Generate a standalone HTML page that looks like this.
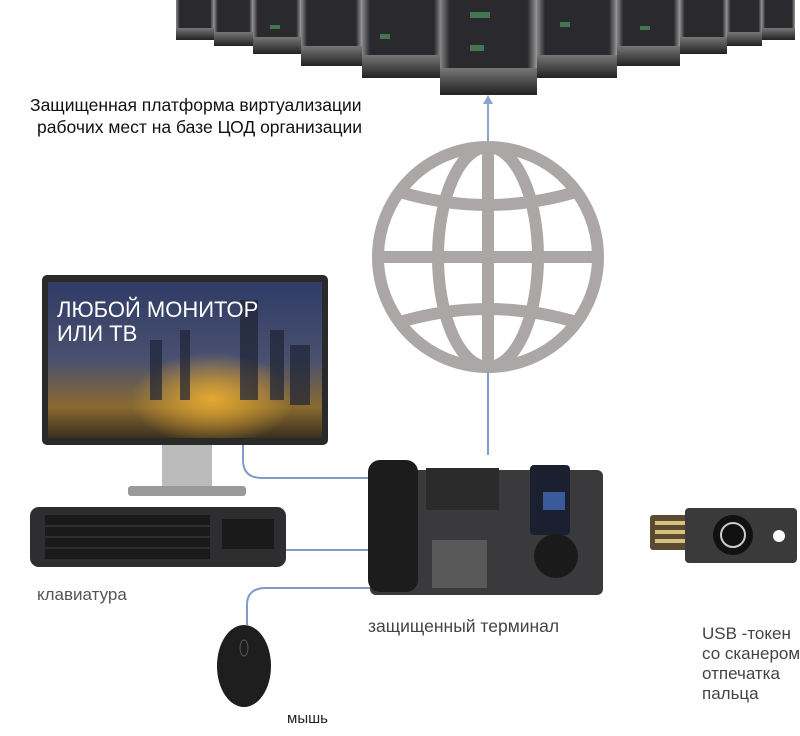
<!DOCTYPE html>
<html><head><meta charset="utf-8"><style>
body{margin:0;background:#fff;}
svg{display:block}
text{font-family:"Liberation Sans",sans-serif}
</style></head><body>
<svg width="800" height="736" viewBox="0 0 800 736" xmlns="http://www.w3.org/2000/svg">
<defs>
<linearGradient id="rk" x1="0" x2="1"><stop offset="0" stop-color="#888"/><stop offset="0.1" stop-color="#2a2a2e"/><stop offset="0.9" stop-color="#2a2a2e"/><stop offset="1" stop-color="#999"/></linearGradient>
<linearGradient id="base" x1="0" y1="0" x2="0" y2="1"><stop offset="0" stop-color="#777"/><stop offset="1" stop-color="#222"/></linearGradient>
<linearGradient id="scr" x1="0" y1="0" x2="0" y2="1"><stop offset="0" stop-color="#2f3c66"/><stop offset="0.5" stop-color="#4a5070"/><stop offset="0.8" stop-color="#8a6a30"/><stop offset="1" stop-color="#3a3020"/></linearGradient>
<radialGradient id="glow" cx="0.6" cy="0.75" r="0.3"><stop offset="0" stop-color="#f0b030" stop-opacity="0.9"/><stop offset="1" stop-color="#f0b030" stop-opacity="0"/></radialGradient>
</defs>
<g>
<rect x="176" y="0" width="38" height="40" fill="url(#rk)"/><rect x="176" y="28" width="38" height="12" fill="url(#base)"/>
<rect x="762" y="0" width="33" height="40" fill="url(#rk)"/><rect x="762" y="28" width="33" height="12" fill="url(#base)"/>
<rect x="214" y="0" width="39" height="46" fill="url(#rk)"/><rect x="214" y="32" width="39" height="14" fill="url(#base)"/>
<rect x="727" y="0" width="35" height="46" fill="url(#rk)"/><rect x="727" y="32" width="35" height="14" fill="url(#base)"/>
<rect x="253" y="0" width="48" height="54" fill="url(#rk)"/><rect x="253" y="37" width="48" height="17" fill="url(#base)"/>
<rect x="680" y="0" width="47" height="54" fill="url(#rk)"/><rect x="680" y="37" width="47" height="17" fill="url(#base)"/>
<rect x="301" y="0" width="61" height="66" fill="url(#rk)"/><rect x="301" y="46" width="61" height="20" fill="url(#base)"/>
<rect x="617" y="0" width="63" height="66" fill="url(#rk)"/><rect x="617" y="46" width="63" height="20" fill="url(#base)"/>
<rect x="362" y="0" width="80" height="78" fill="url(#rk)"/><rect x="362" y="55" width="80" height="23" fill="url(#base)"/>
<rect x="537" y="0" width="80" height="78" fill="url(#rk)"/><rect x="537" y="55" width="80" height="23" fill="url(#base)"/>
<rect x="440" y="0" width="97" height="95" fill="url(#rk)"/><rect x="440" y="68" width="97" height="27" fill="url(#base)"/>
<g fill="#4a8a5a" opacity="0.8"><rect x="470" y="12" width="20" height="6"/><rect x="470" y="45" width="14" height="6"/><rect x="380" y="34" width="10" height="5"/><rect x="560" y="22" width="10" height="5"/><rect x="270" y="25" width="10" height="4"/><rect x="640" y="26" width="10" height="4"/></g>
</g>
<line x1="488" y1="145" x2="488" y2="101" stroke="#8aa4cc" stroke-width="2"/>
<path d="M483 104 L488 95 L493 104 Z" fill="#8aa4cc"/>
<text x="30" y="111" font-size="17.5" fill="#111">Защищенная платформа виртуализации</text>
<text x="37" y="133" font-size="17.5" fill="#111">рабочих мест на базе ЦОД организации</text>
<g fill="none" stroke="#aba7a7" stroke-width="12">
<circle cx="488" cy="257" r="110"/>
<ellipse cx="488" cy="257" rx="50" ry="110"/>
<line x1="488" y1="147" x2="488" y2="367"/>
<line x1="378" y1="257" x2="598" y2="257"/>
<path d="M400 192 Q488 218 576 192"/>
<path d="M400 322 Q488 296 576 322"/>
</g>
<g fill="none" stroke="#7f9cc8" stroke-width="2">
<line x1="488" y1="372" x2="488" y2="455"/>
<path d="M243 445 L243 460 Q243 478 262 478 L385 478"/>
<line x1="286" y1="550" x2="370" y2="550"/>
<path d="M247 625 L247 605 Q247 588 266 588 L370 588"/>
</g>
<rect x="162" y="440" width="50" height="52" fill="#bbb"/>
<rect x="128" y="486" width="118" height="10" rx="3" fill="#999"/>
<rect x="42" y="275" width="286" height="170" rx="5" fill="#2a2a2a"/>
<rect x="48" y="282" width="274" height="156" fill="url(#scr)"/>
<rect x="48" y="282" width="274" height="156" fill="url(#glow)"/>
<g fill="#1e2434" opacity="0.7"><rect x="150" y="340" width="12" height="60"/><rect x="180" y="330" width="10" height="70"/><rect x="240" y="300" width="18" height="100"/><rect x="270" y="330" width="14" height="70"/><rect x="290" y="345" width="20" height="60"/></g>
<text x="57" y="317" font-size="22" fill="#fff">ЛЮБОЙ МОНИТОР</text>
<text x="57" y="341" font-size="22" fill="#fff">ИЛИ ТВ</text>
<rect x="30" y="507" width="256" height="60" rx="9" fill="#2e2e30"/>
<g fill="#1a1a1a"><rect x="45" y="515" width="165" height="44"/><rect x="222" y="519" width="52" height="30"/></g>
<g stroke="#444" stroke-width="1"><line x1="45" y1="526" x2="210" y2="526"/><line x1="45" y1="537" x2="210" y2="537"/><line x1="45" y1="548" x2="210" y2="548"/></g>
<text x="37" y="600" font-size="17" fill="#555">клавиатура</text>
<rect x="370" y="470" width="233" height="125" rx="6" fill="#3a3a3c"/>
<rect x="368" y="460" width="50" height="132" rx="12" fill="#1c1c1c"/>
<rect x="426" y="468" width="73" height="42" fill="#2b2b2b"/>
<rect x="530" y="465" width="40" height="70" rx="4" fill="#1a2030"/>
<rect x="543" y="492" width="22" height="18" fill="#3a5a9a"/>
<circle cx="556" cy="556" r="22" fill="#1a1a1a"/>
<g fill="#777"><rect x="432" y="540" width="55" height="48" opacity="0.5"/></g>
<text x="368" y="632" font-size="17.5" fill="#444">защищенный терминал</text>
<rect x="650" y="515" width="42" height="35" rx="3" fill="#5a4a30"/>
<g fill="#d8c080"><rect x="655" y="521" width="34" height="4"/><rect x="655" y="530" width="34" height="4"/><rect x="655" y="539" width="34" height="4"/></g>
<rect x="685" y="508" width="112" height="55" rx="4" fill="#3a3a3a"/>
<circle cx="733" cy="535" r="20" fill="#111"/>
<circle cx="733" cy="535" r="12" fill="none" stroke="#ccc" stroke-width="2"/>
<circle cx="779" cy="536" r="6" fill="#fff"/>
<text x="702" y="639" font-size="17" fill="#444">USB -токен</text>
<text x="702" y="659" font-size="17" fill="#444">со сканером</text>
<text x="702" y="679" font-size="17" fill="#444">отпечатка</text>
<text x="702" y="699" font-size="17" fill="#444">пальца</text>
<ellipse cx="244" cy="666" rx="27" ry="41" fill="#1e1e1e"/>
<ellipse cx="244" cy="648" rx="4" ry="8" fill="none" stroke="#555"/>
<text x="287" y="723" font-size="15" fill="#222">мышь</text>
</svg>
</body></html>
